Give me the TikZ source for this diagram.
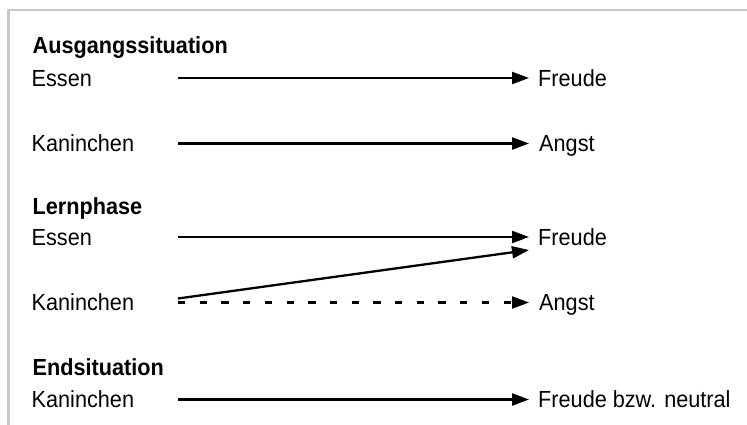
\documentclass[tikz,border=0pt]{standalone}
\usepackage{fontspec}
\setmainfont[FakeStretch=0.93]{Liberation Sans}
\usetikzlibrary{arrows.meta}
\begin{document}
\begin{tikzpicture}[x=1pt,y=-1pt,
  lbl/.style={anchor=base west,inner sep=0pt,font=\fontsize{23.3}{27}\selectfont},
  ttl/.style={lbl,font=\fontsize{23.3}{27}\selectfont\bfseries},
  link/.style={line width=2.3pt,-{Triangle[length=17pt,width=12pt]}},
  frame/.style={line width=2.5pt,draw={rgb,255:red,200;green,200;blue,200}}]
\useasboundingbox (0,0) rectangle (747,425);
% partial frame: left and top edges
\draw[frame] (8.5,425) -- (8.5,10) -- (747,10);

% section titles
\node[ttl] (t1) at (32.5,54) {Ausgangssituation};
\node[ttl] (t2) at (32.5,214) {Lernphase};
\node[ttl] (t3) at (32.5,375) {Endsituation};

% left labels
\node[lbl] (l1) at (31.5,87) {Essen};
\node[lbl] (l2) at (31.5,151.5) {Kaninchen};
\node[lbl] (l3) at (31.5,245.5) {Essen};
\node[lbl] (l4) at (31.5,310.5) {Kaninchen};
\node[lbl] (l5) at (31.5,407) {Kaninchen};

% right labels
\node[lbl] (r1) at (538,87) {Freude};
\node[lbl] (r2) at (539,151.5) {Angst};
\node[lbl] (r3) at (538,245.5) {Freude};
\node[lbl] (r4) at (539,310.5) {Angst};
\node[lbl] (r5) at (538,407) {Freude bzw. neutral};

% arrow end points
\coordinate (a1) at (178,78);   \coordinate (b1) at (529,78);
\coordinate (a2) at (178,143.5);\coordinate (b2) at (529,143.5);
\coordinate (a3) at (178,237);  \coordinate (b3) at (529,237);
\coordinate (a4) at (178,298.5);\coordinate (b4) at (529,250);
\coordinate (a5) at (178,302.5);\coordinate (b5) at (529,302.5);
\coordinate (a6) at (178,399.5);\coordinate (b6) at (529,399.5);

\draw[link] (a1) -- (b1);
\draw[link] (a2) -- (b2);
\draw[link] (a3) -- (b3);
\draw[link] (a4) -- (b4);
\draw[link,dash pattern=on 7.3pt off 14.4pt] (a5) -- (b5);
\draw[link] (a6) -- (b6);
\end{tikzpicture}
\end{document}
